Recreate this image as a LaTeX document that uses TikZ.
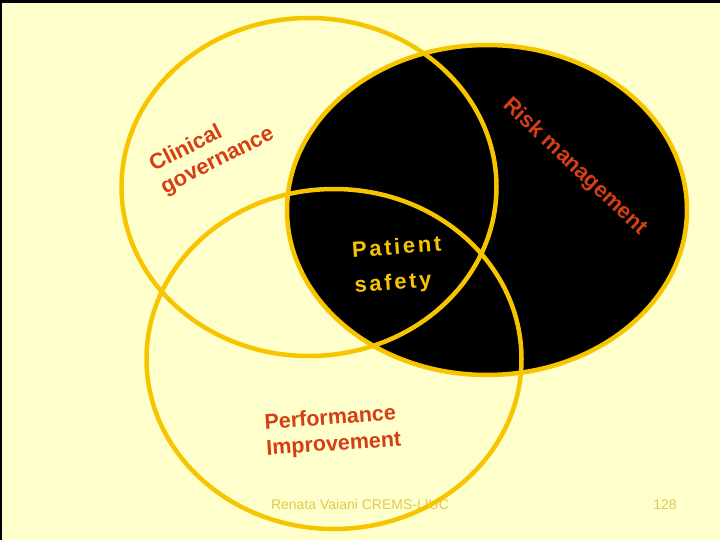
\documentclass[tikz,border=0pt]{standalone}
\usepackage{fontspec}
\setmainfont{Liberation Sans}
\newfontfamily\spacedfont{Liberation Sans}[LetterSpace=12]
\usetikzlibrary{shapes.geometric}
\definecolor{bgyellow}{RGB}{255,255,204}
\definecolor{gold}{RGB}{247,197,0}
\definecolor{lblred}{RGB}{214,62,22}
\definecolor{footer}{RGB}{222,204,80}
\begin{document}
\begin{tikzpicture}[x=1pt,y=-1pt,
  venn/.style={ellipse, draw=gold, line width=4.5pt, inner sep=0pt, outer sep=0pt},
  lbl/.style={font=\fontsize{22}{25}\selectfont\bfseries, align=left, inner sep=0pt},
  foot/.style={font=\fontsize{14}{16}\selectfont, text=footer, inner sep=0pt, anchor=base}]
\fill[black] (0,0) rectangle (720,540);
\fill[bgyellow] (1.5,3) rectangle (720,540);
\useasboundingbox (0,0) rectangle (720,540);
\node[foot] (author) at (360,509) {Renata Vaiani CREMS-LIUC};
\node[foot] (page) at (665,509) {128};
\node[venn, fill=black, minimum width=400pt, minimum height=330pt] (rm) at (487,210) {};
\node[venn, minimum width=375pt, minimum height=338pt] (cg) at (309,187) {};
\node[venn, minimum width=375pt, minimum height=340pt] (pi) at (334,359) {};
\node[lbl, text=lblred, rotate=27] (cgl) at (212,150) {Clinical\\governance};
\node[lbl, text=lblred, rotate=-43] (rml) at (575,167) {Risk management};
\node[lbl, text=gold, rotate=4, font=\spacedfont\bfseries\fontsize{22}{35}\selectfont] (psl) at (398,266) {Patient\\safety};
\node[lbl, text=lblred, rotate=4, font=\bfseries\fontsize{21.5}{26}\selectfont] (pil) at (333,432) {Performance\\Improvement};
\end{tikzpicture}
\end{document}
